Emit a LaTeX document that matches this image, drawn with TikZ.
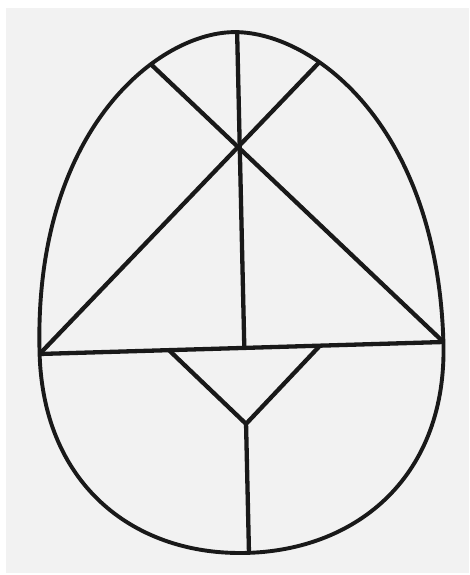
\documentclass[tikz,border=0pt]{standalone}
\usetikzlibrary{calc, intersections}

\begin{document}
\begin{tikzpicture}[
  x=1pt, y=1pt,
  shell/.style={line width=3.9pt, draw=black!90},
  cut/.style={line width=4.3pt, draw=black!90, line join=round},
]
% paper
\fill[white] (0,0) rectangle (469,575);
\fill[black!5] (6,2) rectangle (469,567);
\useasboundingbox (0,0) rectangle (469,575);

% egg outline, slightly tilted
\begin{scope}[shift={(241.5,227)}, rotate=1.7]
  \coordinate (L) at (-202,0);
  \coordinate (R) at (202,0);
  \coordinate (T) at (5,316);
  \coordinate (B) at (1.4,-205);
  \coordinate (C) at (2.5,201);
  \coordinate (VL) at (-72.6,0);
  \coordinate (VR) at (78.5,0);
  \draw[shell, name path global=egg] (L) .. controls (-202,221) and (-77,316) .. (0,316)
     .. controls (77,316) and (202,221) .. (R)
     .. controls (202,-133) and (111,-205) .. (0,-205)
     .. controls (-111,-205) and (-202,-133) .. cycle;
\end{scope}

% points on the cuts
\coordinate (M) at ($(T)!0.6065!(B)$);
\coordinate (VB) at ($(T)!0.7524!(B)$);
\path[name path=diagA] ($(L)!0.5!(C)$) -- ($(L)!1.7!(C)$);
\path[name path=diagB] ($(R)!0.5!(C)$) -- ($(R)!1.7!(C)$);
\path[name intersections={of=diagA and egg, by={UR}}];
\path[name intersections={of=diagB and egg, by={UL}}];

% cuts
\draw[cut] (L) -- (R);
\draw[cut] (L) -- (UR);
\draw[cut] (R) -- (UL);
\draw[cut] (T) -- (M);
\draw[cut] (VL) -- (VB) -- (VR);
\draw[cut] (VB) -- (B);
\end{tikzpicture}
\end{document}
